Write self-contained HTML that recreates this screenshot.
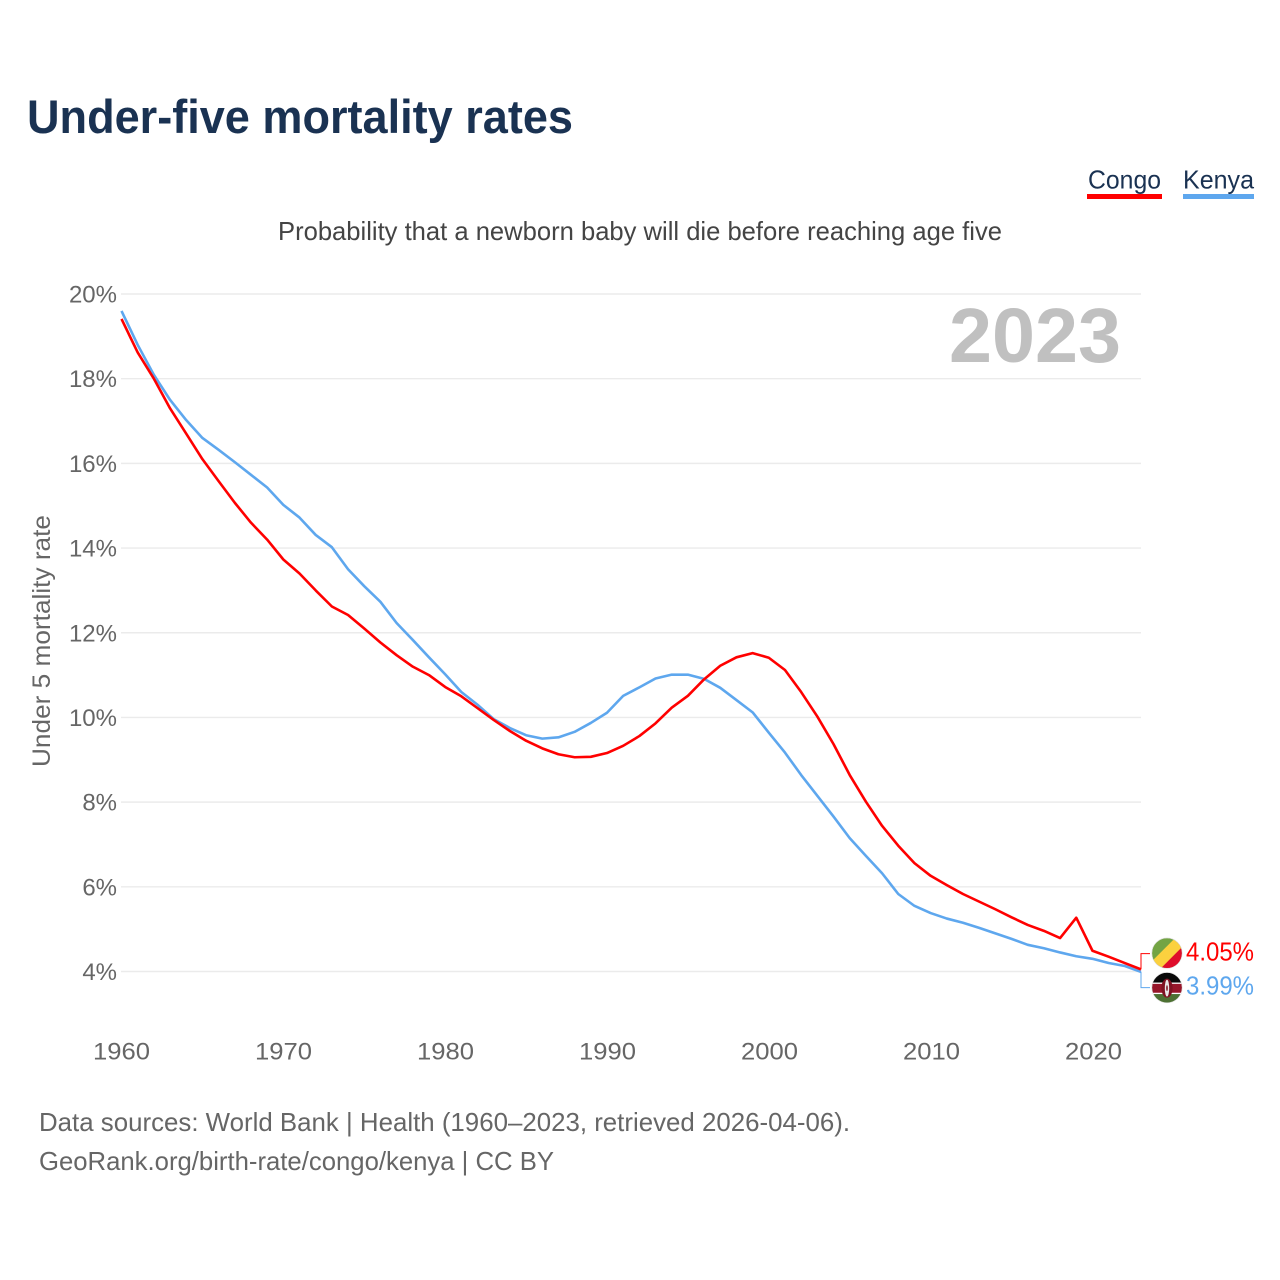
<!DOCTYPE html>
<html lang="en">
<head>
<meta charset="utf-8">
<title>Under-five mortality rates</title>
<style>
html,body{margin:0;padding:0;background:#fff;width:1280px;height:1280px;overflow:hidden}
svg{display:block}
text{font-family:"Liberation Sans",sans-serif}
</style>
</head>
<body>
<svg id="chart" xmlns="http://www.w3.org/2000/svg" width="1280" height="1280" viewBox="0 0 1280 1280">
  <text x="27" y="133" font-size="47" font-weight="700" fill="#1a3252" textLength="546" lengthAdjust="spacingAndGlyphs">Under-five mortality rates</text>
  <text x="1088" y="188.5" font-size="26" fill="#1a3252" textLength="73" lengthAdjust="spacingAndGlyphs">Congo</text>
  <rect x="1087" y="194" width="75" height="5" fill="#ff0000"/>
  <text x="1183" y="188.5" font-size="26" fill="#1a3252" textLength="71" lengthAdjust="spacingAndGlyphs">Kenya</text>
  <rect x="1183" y="194" width="71" height="5" fill="#5ea7ee"/>
  <text x="278" y="240" font-size="26" fill="#444444" textLength="724" lengthAdjust="spacingAndGlyphs">Probability that a newborn baby will die before reaching age five</text>
  <text x="949" y="362" font-size="77" font-weight="700" fill="#c0c0c0" textLength="172" lengthAdjust="spacingAndGlyphs">2023</text>
  <text transform="translate(50,767) rotate(-90)" font-size="25" fill="#666666" textLength="252" lengthAdjust="spacingAndGlyphs">Under 5 mortality rate</text>
  <g id="grid"></g>
  <g id="y-axis"></g>
  <g id="x-axis"></g>
  <g id="series"></g>
  <g id="end-labels"></g>
  <defs>
    <clipPath id="clip-congo"><circle cx="0" cy="0" r="15"/></clipPath>
    <clipPath id="clip-kenya"><circle cx="0" cy="0" r="15"/></clipPath>
  </defs>
  <g id="flag-congo">
    <g clip-path="url(#clip-congo)">
      <rect x="-16" y="-16" width="32" height="32" fill="#73a444"/>
      <polygon points="-16,16 16,-16 16,16" fill="#df0d2b"/>
      <polygon points="-16,9 9,-16 18,-16 18,-9 -9,18 -16,18" fill="#fbd13f"/>
    </g>
    <circle cx="0" cy="0" r="15.2" fill="none" stroke="#dddddd" stroke-width="0.6"/>
  </g>
  <g id="flag-kenya">
    <g clip-path="url(#clip-kenya)">
      <rect x="-16" y="-16" width="32" height="11" fill="#0a0a0a"/>
      <rect x="-16" y="-5" width="32" height="1.2" fill="#ffffff"/>
      <rect x="-16" y="-3.8" width="32" height="9" fill="#97162a"/>
      <rect x="-16" y="5.2" width="32" height="1.2" fill="#ffffff"/>
      <rect x="-16" y="6.4" width="32" height="10" fill="#4d7133"/>
      <ellipse cx="0" cy="0.5" rx="5.6" ry="9.5" fill="#7e1222"/>
      <ellipse cx="0" cy="0.5" rx="2.2" ry="8.4" fill="#e8e8e8"/>
      <ellipse cx="0" cy="0.5" rx="0.8" ry="3" fill="#7e1222"/>
    </g>
    <circle cx="0" cy="0" r="15.2" fill="none" stroke="#dddddd" stroke-width="0.6"/>
  </g>
  <text x="39" y="1131" font-size="26" fill="#666666" textLength="811" lengthAdjust="spacingAndGlyphs">Data sources: World Bank | Health (1960–2023, retrieved 2026-04-06).</text>
  <text x="39" y="1170" font-size="26" fill="#666666" textLength="515" lengthAdjust="spacingAndGlyphs">GeoRank.org/birth-rate/congo/kenya | CC BY</text>
</svg>
<script>
var startYear = 1960;
var congoValues = [19.41,18.62,18.0,17.3,16.7,16.1,15.58,15.07,14.6,14.2,13.73,13.4,13.0,12.62,12.42,12.1,11.77,11.47,11.2,11.0,10.72,10.5,10.22,9.94,9.68,9.45,9.27,9.13,9.06,9.07,9.16,9.33,9.56,9.86,10.23,10.51,10.9,11.22,11.42,11.52,11.41,11.12,10.6,10.02,9.37,8.64,8.01,7.44,6.97,6.56,6.26,6.04,5.83,5.65,5.47,5.28,5.1,4.96,4.79,5.27,4.49,4.35,4.2,4.05];
var kenyaValues = [19.6,18.8,18.09,17.5,17.02,16.6,16.32,16.03,15.73,15.43,15.02,14.72,14.31,14.02,13.5,13.1,12.73,12.23,11.83,11.42,11.02,10.6,10.3,9.96,9.75,9.58,9.5,9.53,9.66,9.87,10.11,10.51,10.71,10.92,11.01,11.01,10.91,10.7,10.41,10.12,9.64,9.17,8.64,8.15,7.66,7.15,6.73,6.32,5.83,5.55,5.38,5.25,5.15,5.03,4.9,4.77,4.63,4.55,4.45,4.36,4.3,4.2,4.13,3.99];
var yTickValues = [4,6,8,10,12,14,16,18,20];
var xTickValues = [1960,1970,1980,1990,2000,2010,2020];

var NS = 'http://www.w3.org/2000/svg';
function xScale(year){ return 121.5 + (year - 1960) * (1141 - 121.5) / 63; }
function xTickScale(year){ return 121.5 + (year - 1960) * 16.2; }
function yScale(v){ return 971.5 - (v - 4) * (971.5 - 294) / 16; }
function make(tag, parentId, attrs, txt){
  var el = document.createElementNS(NS, tag);
  for (var k in attrs) { el.setAttribute(k, attrs[k]); }
  if (txt !== undefined) { el.textContent = txt; }
  document.getElementById(parentId).appendChild(el);
  return el;
}

yTickValues.forEach(function(v){
  var line = make('line', 'grid', {x1:121, x2:1141, y1:yScale(v), y2:yScale(v), stroke:'#ebebeb', 'stroke-width':1.4});
  
  
  var label = make('text', 'y-axis', {x:117, y:yScale(v) + 8.5, 'font-size':24, 'text-anchor':'end', fill:'#666666'}, v + '%');
  
  
});

xTickValues.forEach(function(yr){
  var label = make('text', 'x-axis', {x:xTickScale(yr) - 28.5, y:1059.5, 'font-size':24, fill:'#666666', textLength:57, lengthAdjust:'spacingAndGlyphs'}, String(yr));
  
  
});

function pathFor(values){
  return values.map(function(v, i){
    return (i ? 'L' : 'M') + xScale(startYear + i).toFixed(2) + ' ' + yScale(v).toFixed(2);
  }).join(' ');
}

var endYear = startYear + congoValues.length - 1;
var endX = xScale(endYear);
var congoEnd = congoValues[congoValues.length - 1];
var kenyaEnd = kenyaValues[kenyaValues.length - 1];
var midY = (yScale(congoEnd) + yScale(kenyaEnd)) / 2;
var congoLabelY = midY - 17;
var kenyaLabelY = midY + 17;

var kenyaLine = make('path', 'series', {d:pathFor(kenyaValues), fill:'none', stroke:'#5ea7ee', 'stroke-width':2.6, 'stroke-linejoin':'round'});


var congoLine = make('path', 'series', {d:pathFor(congoValues), fill:'none', stroke:'#ff0000', 'stroke-width':2.6, 'stroke-linejoin':'round'});



var kenyaBracket = make('path', 'end-labels', {d:'M' + endX + ' ' + yScale(kenyaEnd) + ' V' + kenyaLabelY + ' H' + (endX + 9), fill:'none', stroke:'#5ea7ee', 'stroke-width':1});


var congoBracket = make('path', 'end-labels', {d:'M' + endX + ' ' + yScale(congoEnd) + ' V' + congoLabelY + ' H' + (endX + 9), fill:'none', stroke:'#ff0000', 'stroke-width':1});



var congoLabel = make('text', 'end-labels', {x:1186, y:congoLabelY + 7, 'font-size':26, fill:'#ff0000', textLength:68, lengthAdjust:'spacingAndGlyphs'}, congoEnd.toFixed(2) + '%');


var kenyaLabel = make('text', 'end-labels', {x:1186, y:kenyaLabelY + 7, 'font-size':26, fill:'#5ea7ee', textLength:68, lengthAdjust:'spacingAndGlyphs'}, kenyaEnd.toFixed(2) + '%');



document.getElementById('flag-congo').setAttribute('transform', 'translate(1167,' + (congoLabelY - 0.5) + ')');
document.getElementById('flag-kenya').setAttribute('transform', 'translate(1167,' + kenyaLabelY + ')');
</script>
</body>
</html>
